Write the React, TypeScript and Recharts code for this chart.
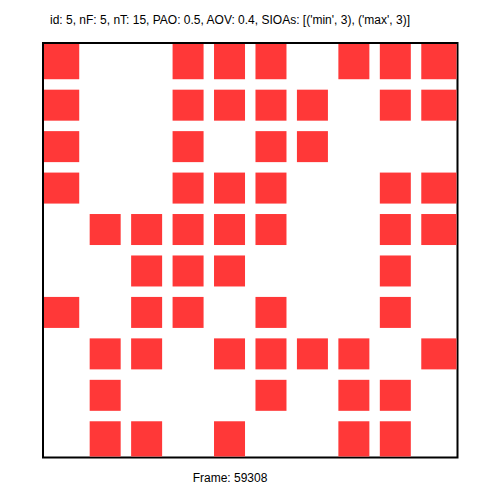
import React from "react";
import { ScatterChart, Scatter, XAxis, YAxis, ReferenceArea } from "recharts";

const title =
  "id: 5, nF: 5, nT: 15, PAO: 0.5, AOV: 0.4, SIOAs: [('min', 3), ('max', 3)]";
const frameLabel = "Frame: 59308";

// 1 = filled cell, rows top to bottom
const row0 = [1, 0, 0, 1, 1, 1, 0, 1, 1, 1];
const row1 = [1, 0, 0, 1, 1, 1, 1, 0, 1, 1];
const row2 = [1, 0, 0, 1, 0, 1, 1, 0, 0, 0];
const row3 = [1, 0, 0, 1, 1, 1, 0, 0, 1, 1];
const row4 = [0, 1, 1, 1, 1, 1, 0, 0, 1, 1];
const row5 = [0, 0, 1, 1, 1, 0, 0, 0, 1, 0];
const row6 = [1, 0, 1, 1, 0, 1, 0, 0, 1, 0];
const row7 = [0, 1, 1, 0, 1, 1, 1, 1, 0, 1];
const row8 = [0, 1, 0, 0, 0, 1, 0, 1, 1, 0];
const row9 = [0, 1, 1, 0, 1, 0, 0, 1, 1, 0];

const rows = [row0, row1, row2, row3, row4, row5, row6, row7, row8, row9];
const N = rows.length;

const points = rows.flatMap((r, row) =>
  r.map((v, col) => ({ col, row, v })).filter((p) => p.v === 1)
);

const W = 502;
const H = 502;
const M = { top: 43, left: 43, right: 44.5, bottom: 44.5 };
const RED = "#ff3838";
const HALF = 15.5;

const Square = (p: any) => {
  const { cx, cy, payload } = p;
  let x0 = cx - HALF;
  let x1 = cx + HALF;
  let y0 = cy - HALF;
  let y1 = cy + HALF;
  if (payload.col === 0) x0 = M.left + 1;
  if (payload.col === N - 1) x1 = W - M.right - 1;
  if (payload.row === 0) y0 = M.top + 1;
  if (payload.row === N - 1) y1 = H - M.bottom - 1;
  return <rect x={x0} y={y0} width={x1 - x0} height={y1 - y0} fill={RED} />;
};

export default function App() {
  return (
    <div style={{ position: "absolute", left: 0, top: 0, width: W, height: H, background: "#fff" }}>
      <ScatterChart width={W} height={H} margin={M}>
        <XAxis type="number" dataKey="col" domain={[-0.5, N - 0.5]} hide />
        <YAxis type="number" dataKey="row" domain={[-0.5, N - 0.5]} reversed hide />
        <Scatter data={points} shape={Square} isAnimationActive={false} />
        <ReferenceArea
          x1={-0.5}
          x2={N - 0.5}
          y1={-0.5}
          y2={N - 0.5}
          fill="none"
          fillOpacity={0}
          stroke="#000"
          strokeWidth={2}
          ifOverflow="visible"
        />
        <text
          x={230}
          y={24}
          textAnchor="middle"
          fontFamily="Liberation Sans, Arial, sans-serif"
          fontSize={12}
          fill="#000"
        >
          {title}
        </text>
        <text
          x={230}
          y={482}
          textAnchor="middle"
          fontFamily="Liberation Sans, Arial, sans-serif"
          fontSize={12}
          fill="#000"
        >
          {frameLabel}
        </text>
      </ScatterChart>
    </div>
  );
}
